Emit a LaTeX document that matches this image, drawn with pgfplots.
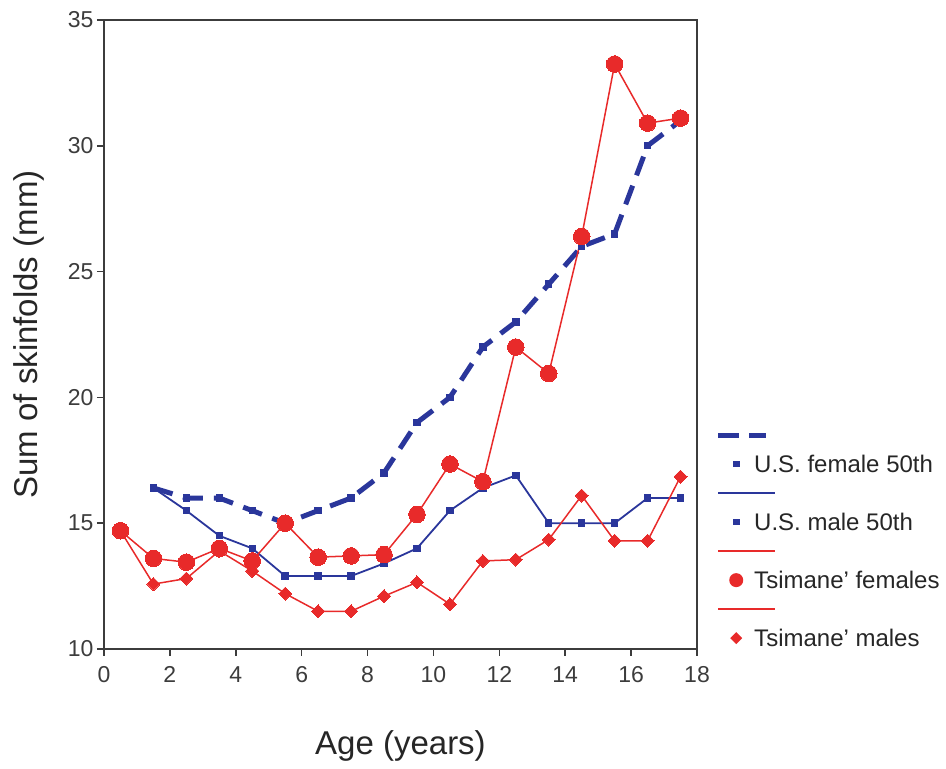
\documentclass[border=0pt]{standalone}
\usepackage{fontspec}
\setmainfont{Liberation Sans}
\usepackage{pgfplots}
\pgfplotsset{compat=1.18}

\definecolor{usblue}{RGB}{42,54,155}
\definecolor{tsred}{RGB}{232,42,42}
\definecolor{axgray}{RGB}{60,60,60}

\begin{document}
\begin{tikzpicture}
\begin{axis}[
  name=ax,
  scale only axis,
  width=593pt, height=629pt,
  xmin=0, xmax=18, ymin=10, ymax=35,
  xtick={0,2,...,18}, ytick={10,15,...,35},
  xtick pos=bottom, ytick pos=left,
  axis line style={axgray, line width=1.6pt},
  tick style={axgray, line width=1.6pt},
  major tick length=7pt,
  tick align=outside,
  ticklabel style={font=\fontsize{23}{27}\selectfont, text=axgray},
  xticklabel style={yshift=-7pt},
  /pgf/number format/assume math mode=true,
  xlabel={Age (years)},
  ylabel={Sum of skinfolds (mm)},
  every axis x label/.style={at={(axis description cs:0.5,-0.154)}, anchor=center,
    font=\fontsize{33}{38}\selectfont, text=black!85},
  every axis y label/.style={at={(axis description cs:-0.1265,0.5)}, rotate=90, anchor=center,
    font=\fontsize{33}{38}\selectfont, text=black!85},
  legend style={draw=none, fill=none, at={(axis description cs:1.0304,0.357)},
    anchor=north west, font=\fontsize{24}{28}\selectfont, text=black!85,
    row sep=12pt, column sep=0pt,
    nodes={inner sep=0pt, text height=17pt, text depth=0pt}},
  legend cell align=left,
  clip=false,
]
% U.S. female 50th
\addplot[usblue, line width=5pt, dash pattern=on 20pt off 11pt,
  mark=square*, mark size=3.2pt, mark options={solid, line width=0pt}, forget plot]
  coordinates {(1.5,16.4)(2.5,16.0)(3.5,16.0)(4.5,15.5)(5.5,15.0)(6.5,15.5)
    (7.5,16.0)(8.5,17.0)(9.5,19.0)(10.5,20.0)(11.5,22.0)(12.5,23.0)(13.5,24.5)
    (14.5,26.0)(15.5,26.5)(16.5,30.0)(17.5,31.0)};
% U.S. male 50th
\addplot[usblue, line width=1.8pt,
  mark=square*, mark size=3.2pt, mark options={line width=0pt}, forget plot]
  coordinates {(1.5,16.4)(2.5,15.5)(3.5,14.5)(4.5,14.0)(5.5,12.9)(6.5,12.9)
    (7.5,12.9)(8.5,13.4)(9.5,14.0)(10.5,15.5)(11.5,16.4)(12.5,16.9)(13.5,15.0)
    (14.5,15.0)(15.5,15.0)(16.5,16.0)(17.5,16.0)};
% Tsimane' females
\addplot[tsred, line width=1.5pt,
  mark=*, mark size=8.3pt, mark options={line width=0pt}, forget plot]
  coordinates {(0.5,14.7)(1.5,13.6)(2.5,13.45)(3.5,14.0)(4.5,13.5)(5.5,15.0)
    (6.5,13.65)(7.5,13.7)(8.5,13.75)(9.5,15.35)(10.5,17.35)(11.5,16.65)
    (12.5,22.0)(13.5,20.95)(14.5,26.4)(15.5,33.25)(16.5,30.9)(17.5,31.1)};
% Tsimane' males
\addplot[tsred, line width=1.5pt,
  mark=square*, mark size=4.6pt, mark options={rotate=45, line width=0pt}, forget plot]
  coordinates {(0.5,14.7)(1.5,12.58)(2.5,12.8)(3.5,13.9)(4.5,13.1)(5.5,12.2)
    (6.5,11.5)(7.5,11.5)(8.5,12.1)(9.5,12.65)(10.5,11.78)(11.5,13.5)(12.5,13.55)
    (13.5,14.35)(14.5,16.1)(15.5,14.3)(16.5,14.3)(17.5,16.85)};

% legend: line sample row, then marker row with name
\addlegendimage{legend image code/.code={
  \path[draw=none, fill=none] (0pt,0pt) rectangle (36pt,0pt);
  \draw[overlay, usblue, line width=5pt, solid] (0pt,0pt) -- (21pt,0pt);
  \draw[overlay, usblue, line width=5pt, solid] (31pt,0pt) -- (48pt,0pt);}}
\addlegendentry{}
\addlegendimage{legend image code/.code={
  \path[draw=none, fill=none] (0pt,0pt) rectangle (36pt,0pt);
  \fill[usblue, draw=none] (15pt,-3.2pt) rectangle (21.4pt,3.2pt);}}
\addlegendentry{U.S. female 50th}
\addlegendimage{legend image code/.code={
  \path[draw=none, fill=none] (0pt,0pt) rectangle (36pt,0pt);
  \draw[overlay, usblue, line width=1.8pt] (0pt,0pt) -- (57pt,0pt);}}
\addlegendentry{}
\addlegendimage{legend image code/.code={
  \path[draw=none, fill=none] (0pt,0pt) rectangle (36pt,0pt);
  \fill[usblue, draw=none] (15pt,-3.2pt) rectangle (21.4pt,3.2pt);}}
\addlegendentry{U.S. male 50th}
\addlegendimage{legend image code/.code={
  \path[draw=none, fill=none] (0pt,0pt) rectangle (36pt,0pt);
  \draw[overlay, tsred, line width=1.5pt] (0pt,0pt) -- (57pt,0pt);}}
\addlegendentry{}
\addlegendimage{legend image code/.code={
  \path[draw=none, fill=none] (0pt,0pt) rectangle (36pt,0pt);
  \fill[tsred, draw=none] (18pt,0pt) circle (7pt);}}
\addlegendentry{Tsimane' females}
\addlegendimage{legend image code/.code={
  \path[draw=none, fill=none] (0pt,0pt) rectangle (36pt,0pt);
  \draw[overlay, tsred, line width=1.5pt] (0pt,0pt) -- (57pt,0pt);}}
\addlegendentry{}
\addlegendimage{legend image code/.code={
  \path[draw=none, fill=none] (0pt,0pt) rectangle (36pt,0pt);
  \fill[tsred, draw=none] (18pt,-6pt) -- (24pt,0pt) -- (18pt,6pt) -- (12pt,0pt) -- cycle;}}
\addlegendentry{Tsimane' males}
\end{axis}
\pgfresetboundingbox
\path (ax.south west) ++(-104pt,-120pt) rectangle ([shift={(249pt,20pt)}]ax.north east);
\end{tikzpicture}
\end{document}
